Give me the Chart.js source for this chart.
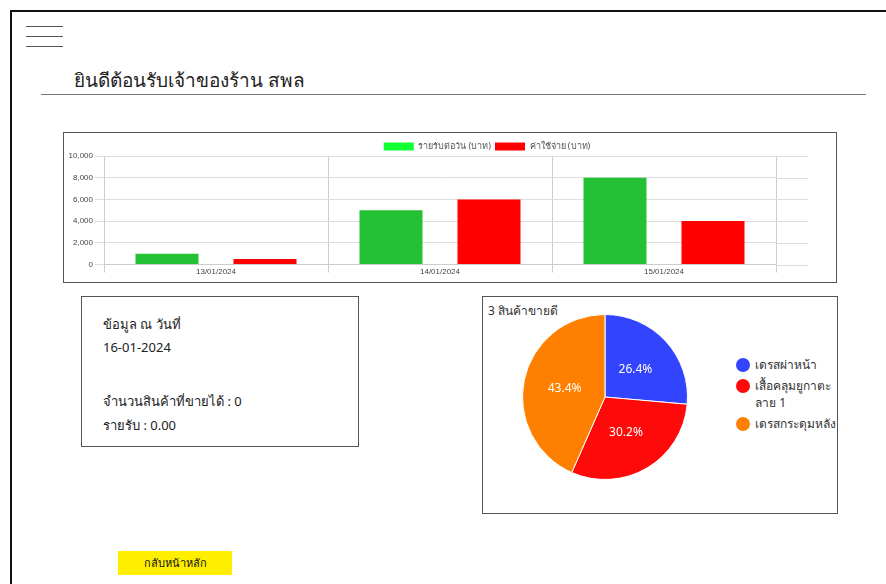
<!DOCTYPE html>
<html lang="th">
<head>
<meta charset="utf-8">
<title>ยินดีต้อนรับเจ้าของร้าน</title>
<script src="https://cdn.jsdelivr.net/npm/chart.js@4.4.1/dist/chart.umd.min.js"></script>
<style>
  body { margin: 0; background: #fff; font-family: "Noto Sans", "Open Sans", sans-serif; color: #222; }
  .page { position: absolute; left: 10px; top: 10px; width: 900px; height: 600px; border: 2px solid #111; box-sizing: border-box; }
  .burger { position: absolute; left: 26px; width: 37px; height: 1px; background: #555; }
  .title { position: absolute; left: 74px; top: 65px; font-size: 19px; margin: 0; font-weight: normal; color: #222; }
  .rule { position: absolute; left: 41px; top: 94px; width: 825px; height: 1px; background: #777; }
  .box { position: absolute; border: 1px solid #555; box-sizing: border-box; }
  .info p { position: absolute; left: 21px; margin: 0; font-size: 13px; white-space: nowrap; }
  .pie-title { position: absolute; left: 5px; top: 4px; font-size: 12px; color: #333; }
  .pie-legend { position: absolute; left: 253px; top: 59px; width: 84px; font-size: 12px; line-height: 17px; color: #333; }
  .pie-legend > div { position: relative; padding-left: 19px; margin-bottom: 4px; }
  .pie-legend .dot { position: absolute; left: 0; top: 2px; width: 14px; height: 14px; border-radius: 50%; }
  .pie-legend .w { white-space: nowrap; }
  .btn { position: absolute; left: 118px; top: 551px; width: 114px; height: 24px; background: #ffee00; font-size: 11px; line-height: 24px; text-align: center; color: #111; }
</style>
</head>
<body>
<div class="page"></div>
<div class="burger" style="top:26px"></div>
<div class="burger" style="top:36px"></div>
<div class="burger" style="top:46px"></div>
<h1 class="title">ยินดีต้อนรับเจ้าของร้าน สพล</h1>
<div class="rule"></div>

<div class="box" style="left:63px; top:132px; width:774px; height:151px;">
  <canvas id="chart-daily" width="772" height="149" style="position:absolute; left:0; top:0;"></canvas>
</div>

<div class="box info" style="left:81px; top:296px; width:278px; height:151px;">
  <p style="top:17px">ข้อมูล ณ วันที่</p>
  <p style="top:41px">16-01-2024</p>
  <p style="top:94px">จำนวนสินค้าที่ขายได้ : 0</p>
  <p style="top:118px">รายรับ : 0.00</p>
</div>

<div class="box" style="left:482px; top:296px; width:356px; height:218px;">
  <div class="pie-title">3 สินค้าขายดี</div>
  <canvas id="chart-top3" width="170" height="170" style="position:absolute; left:37px; top:15px;"></canvas>
  <div class="pie-legend" id="pie-legend"></div>
</div>

<div class="btn">กลับหน้าหลัก</div>

<script>
// ─── ข้อมูล ───────────────────────────────────────────────
const days = ['13/01/2024', '14/01/2024', '15/01/2024'];
const income = [1000, 5000, 8000];
const expense = [500, 6000, 4000];
const yTicks = [0, 2000, 4000, 6000, 8000, 10000];

const products = ['เดรสผ่าหน้า', 'เสื้อคลุมยูกาตะ ลาย 1', 'เดรสกระดุมหลัง'];
const productShare = [26.4, 30.2, 43.4];
const productColors = ['#3344ff', '#ff0a0a', '#ff8000'];

// เส้นกริดแนวนอนยาวเลยพื้นที่กราฟไปทางขวา + เลื่อนคำอธิบาย
const extendGrid = {
  id: 'extendGrid',
  afterLayout(chart) {
    const lg = chart.legend;
    lg.left += 67; lg.right += 67;
    lg.top += 5; lg.bottom += 5;
  },
  beforeDatasetsDraw(chart) {
    const { ctx, chartArea, scales } = chart;
    ctx.save();
    ctx.strokeStyle = '#dddddd';
    ctx.lineWidth = 1;
    yTicks.forEach(v => {
      const y = Math.round(scales.y.getPixelForValue(v)) + 0.5;
      ctx.beginPath();
      ctx.moveTo(chartArea.right, y);
      ctx.lineTo(chartArea.right + 32, y);
      ctx.stroke();
    });
    ctx.restore();
  },
};

const legendFill = ['#11ff33', '#ff0000'];

new Chart(document.getElementById('chart-daily'), {
  type: 'bar',
  data: {
    labels: days,
    datasets: [
      { label: 'รายรับต่อวัน (บาท)', data: income, backgroundColor: '#23c133' },
      { label: 'ค่าใช้จ่าย (บาท)', data: expense, backgroundColor: '#ff0000' },
    ],
  },
  options: {
    responsive: false,
    animation: false,
    devicePixelRatio: 1,
    categoryPercentage: 0.875,
    barPercentage: 0.643,
    layout: { padding: { left: 0, right: 60, top: 0, bottom: 0 } },
    plugins: {
      legend: {
        position: 'top',
        labels: {
          boxWidth: 30, boxHeight: 8, padding: 4,
          font: { size: 9, family: 'Noto Sans' }, color: '#555',
          generateLabels(chart) {
            const items = Chart.defaults.plugins.legend.labels.generateLabels(chart);
            items.forEach((it, i) => { it.fillStyle = legendFill[i]; it.strokeStyle = legendFill[i]; it.lineWidth = 0; });
            return items;
          },
        },
      },
      tooltip: { enabled: false },
    },
    scales: {
      x: {
        grid: { color: '#cccccc', tickLength: 8, offset: true },
        border: { color: '#cccccc' },
        ticks: { font: { size: 8 }, color: '#444', padding: -6 },
        afterFit(scale) { scale.height = 17.5; },
      },
      y: {
        min: 0, max: 10000,
        afterBuildTicks(scale) { scale.ticks = yTicks.map(v => ({ value: v })); },
        afterFit(scale) { scale.width = 40; },
        grid: { color: '#dddddd', tickLength: 9 },
        border: { color: '#cccccc' },
        ticks: { font: { size: 8 }, color: '#444', padding: 2 },
      },
    },
  },
  plugins: [extendGrid],
});

// ป้ายเปอร์เซ็นต์บนชิ้นพาย
const sliceLabels = {
  id: 'sliceLabels',
  afterDatasetsDraw(chart) {
    const { ctx } = chart;
    const meta = chart.getDatasetMeta(0);
    ctx.save();
    ctx.fillStyle = '#ffffff';
    ctx.font = '12px "Noto Sans"';
    ctx.textAlign = 'center';
    ctx.textBaseline = 'middle';
    meta.data.forEach((arc, i) => {
      const p = arc.tooltipPosition();
      ctx.fillText(productShare[i].toFixed(1) + '%', p.x, p.y);
    });
    ctx.restore();
  },
};

new Chart(document.getElementById('chart-top3'), {
  type: 'pie',
  data: {
    labels: products,
    datasets: [{ data: productShare, backgroundColor: productColors, borderColor: '#ffffff', borderWidth: 1 }],
  },
  options: {
    responsive: false,
    animation: false,
    devicePixelRatio: 1,
    layout: { padding: 2 },
    plugins: { legend: { display: false }, tooltip: { enabled: false } },
  },
  plugins: [sliceLabels],
});

document.getElementById('pie-legend').innerHTML = products
  .map((name, i) => {
    const words = name.split(' ').map(w => `<span class="w">${w}</span>`).join(' ');
    return `<div><span class="dot" style="background:${productColors[i]}"></span>${words}</div>`;
  })
  .join('');
</script>
</body>
</html>
